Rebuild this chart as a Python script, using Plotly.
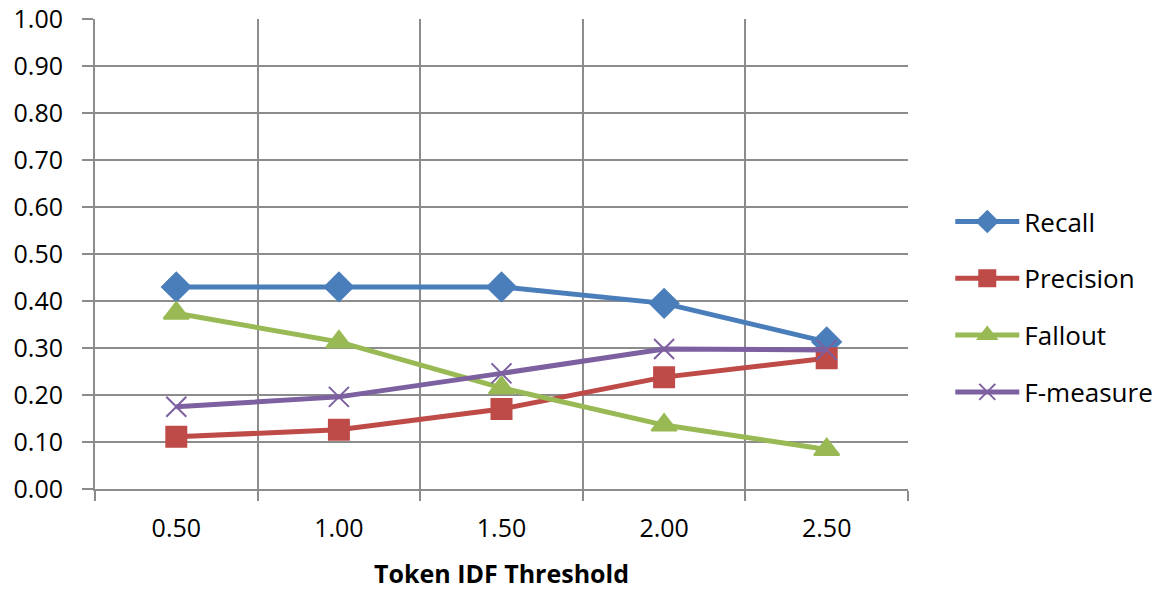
import plotly.graph_objects as go

# IDF thresholds on the x axis
thresholds = [0.5, 1.0, 1.5, 2.0, 2.5]
threshold_labels = ["0.50", "1.00", "1.50", "2.00", "2.50"]

# Evaluation metrics at each threshold
recall = [0.430, 0.430, 0.430, 0.395, 0.313]
precision = [0.111, 0.126, 0.170, 0.238, 0.278]
fallout = [0.374, 0.313, 0.215, 0.136, 0.084]
f_measure = [0.175, 0.196, 0.246, 0.298, 0.296]

y_ticks = [i / 10 for i in range(11)]
y_tick_labels = [f"{v:.2f}" for v in y_ticks]

series = [
    ("Recall", recall, "#4A7EBB", "diamond", 22),
    ("Precision", precision, "#BE4B48", "square", 20),
    ("Fallout", fallout, "#98B954", "triangle-up", 22),
    ("F-measure", f_measure, "#7D60A0", "x-thin-open", 20),
]

fig = go.Figure()
for name, values, color, symbol, size in series:
    fig.add_trace(go.Scatter(
        x=thresholds, y=values, name=name, legendgroup=name,
        mode="lines+markers",
        line=dict(color=color, width=5),
        marker=dict(symbol=symbol, size=size, color=color,
                    line=dict(color=color, width=2)),
    ))

font_family = "Open Sans, Noto Sans, sans-serif"
grid_color = "#8C8C8C"

fig.update_layout(
    width=1164, height=592,
    margin=dict(l=95, r=256, t=19, b=103, autoexpand=False),
    paper_bgcolor="white", plot_bgcolor="white",
    font=dict(family=font_family, size=25, color="black"),
    showlegend=True,
    legend=dict(x=1.052, xanchor="left", y=0.387, yanchor="middle",
                font=dict(size=26), tracegroupgap=20, itemwidth=64,
                bgcolor="rgba(0,0,0,0)"),
    xaxis=dict(
        range=[0.25, 2.75], tickvals=thresholds, ticktext=threshold_labels,
        showgrid=False, ticks="", zeroline=False, automargin=False,
        showline=True, linecolor=grid_color, linewidth=2,
        ticklabelstandoff=16,
        minor=dict(tick0=0.25, dtick=0.5, showgrid=True, gridcolor=grid_color,
                   gridwidth=2, ticks="outside", ticklen=10, tickwidth=2,
                   tickcolor=grid_color),
        title=dict(text="<b>Token IDF Threshold</b>", standoff=22,
                   font=dict(size=25)),
    ),
    yaxis=dict(
        range=[0, 1.0], tickvals=y_ticks, ticktext=y_tick_labels,
        showgrid=True, gridcolor=grid_color, gridwidth=2,
        ticks="outside", ticklen=11, tickwidth=2, tickcolor=grid_color,
        zeroline=False, showline=True, linecolor=grid_color, linewidth=2,
        ticklabelstandoff=14, automargin=False,
    ),
)

fig.write_html("out.html")
